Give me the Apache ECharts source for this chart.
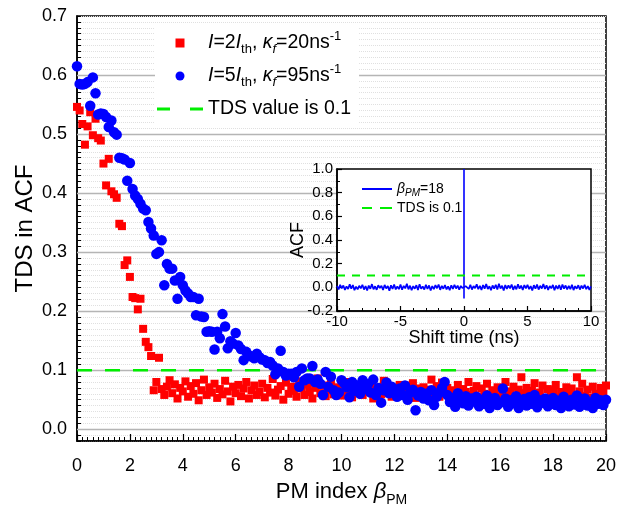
<!DOCTYPE html>
<html>
<head>
<meta charset="utf-8">
<title>TDS in ACF vs PM index</title>
<script src="https://cdn.jsdelivr.net/npm/echarts@6/dist/echarts.min.js"></script>
<style>
  html, body { margin: 0; padding: 0; background: #fff; }
  #chart { width: 625px; height: 510px; }
</style>
</head>
<body>
<div id="chart"></div>
<script>
var FONT = 'Arial, "Liberation Sans", sans-serif';
var GREEN = '#00ee00';

// TDS values, PM index 0..20 in steps of 0.1
var redTds = [
  0.546, 0.540, 0.517, 0.482, 0.513, 0.537, 0.498, 0.526, 0.493, 0.489,
  0.450, 0.413, 0.458, 0.403, 0.398, 0.392, 0.348, 0.344, 0.278, 0.286,
  0.258, 0.224, 0.222, 0.203, 0.221, 0.170, 0.148, 0.139, 0.124, 0.066,
  0.080, 0.121, 0.068, 0.058, 0.072, 0.083, 0.061, 0.076, 0.052, 0.070,
  0.064, 0.081, 0.055, 0.073, 0.060, 0.078, 0.049, 0.066, 0.084, 0.058,
  0.071, 0.062, 0.077, 0.053, 0.068, 0.059, 0.082, 0.064, 0.047, 0.072,
  0.061, 0.075, 0.056, 0.069, 0.080, 0.052, 0.066, 0.074, 0.058, 0.063,
  0.077, 0.054, 0.070, 0.062, 0.085, 0.057, 0.067, 0.073, 0.050, 0.079,
  0.060, 0.072, 0.065, 0.055, 0.081, 0.069, 0.058, 0.076, 0.063, 0.052,
  0.070, 0.086, 0.061, 0.074, 0.056, 0.067, 0.079, 0.059, 0.071, 0.064,
  0.057, 0.073, 0.066, 0.080, 0.054, 0.069, 0.062, 0.075, 0.058, 0.068,
  0.063, 0.077, 0.052, 0.070, 0.065, 0.059, 0.082, 0.061, 0.072, 0.055,
  0.068, 0.060, 0.075, 0.064, 0.057, 0.074, 0.066, 0.078, 0.053, 0.069,
  0.062, 0.071, 0.058, 0.067, 0.084, 0.060, 0.073, 0.055, 0.079, 0.064,
  0.070, 0.056, 0.066, 0.061, 0.075, 0.052, 0.068, 0.063, 0.080, 0.058,
  0.065, 0.073, 0.054, 0.069, 0.060, 0.077, 0.057, 0.066, 0.062, 0.071,
  0.055, 0.068, 0.080, 0.059, 0.064, 0.072, 0.053, 0.067, 0.088, 0.061,
  0.070, 0.057, 0.065, 0.078, 0.054, 0.062, 0.074, 0.050, 0.068, 0.060,
  0.066, 0.075, 0.052, 0.063, 0.058, 0.071, 0.061, 0.069, 0.055, 0.088,
  0.064, 0.077, 0.056, 0.067, 0.053, 0.072, 0.060, 0.058, 0.070, 0.062,
  0.074
];
var blueTds = [
  0.615, 0.585, 0.584, 0.585, 0.588, 0.548, 0.596, 0.569, 0.533, 0.535,
  0.534, 0.529, 0.512, 0.523, 0.503, 0.499, 0.460, 0.459, 0.457, 0.421,
  0.451, 0.407, 0.396, 0.390, 0.382, 0.374, 0.371, 0.351, 0.340, 0.328,
  0.297, 0.300, 0.320, 0.244, 0.280, 0.272, 0.272, 0.252, 0.221, 0.258,
  0.244, 0.235, 0.230, 0.224, 0.224, 0.193, 0.221, 0.191, 0.190, 0.165,
  0.166, 0.165, 0.135, 0.165, 0.154, 0.195, 0.174, 0.137, 0.149, 0.145,
  0.163, 0.142, 0.136, 0.117, 0.131, 0.125, 0.123, 0.120, 0.128, 0.122,
  0.118, 0.117, 0.112, 0.114, 0.108, 0.093, 0.103, 0.133, 0.097, 0.091,
  0.094, 0.094, 0.088, 0.097, 0.072, 0.103, 0.083, 0.086, 0.086, 0.107,
  0.080, 0.084, 0.077, 0.058, 0.097, 0.072, 0.089, 0.066, 0.058, 0.062,
  0.083, 0.078, 0.071, 0.054, 0.080, 0.065, 0.074, 0.060, 0.083, 0.068,
  0.076, 0.062, 0.084, 0.058, 0.070, 0.045, 0.066, 0.079, 0.061, 0.072,
  0.064, 0.055, 0.069, 0.058, 0.074, 0.050, 0.062, 0.067, 0.032, 0.057,
  0.063, 0.052, 0.060, 0.049, 0.066, 0.041, 0.055, 0.062, 0.070, 0.080,
  0.058, 0.046, 0.053, 0.038, 0.061, 0.049, 0.044, 0.056, 0.040, 0.052,
  0.047, 0.055, 0.039, 0.050, 0.043, 0.057, 0.036, 0.048, 0.053, 0.041,
  0.045, 0.069, 0.052, 0.038, 0.049, 0.044, 0.056, 0.036, 0.047, 0.051,
  0.040, 0.054, 0.043, 0.058, 0.037, 0.049, 0.045, 0.052, 0.039, 0.046,
  0.053, 0.041, 0.048, 0.036, 0.055, 0.044, 0.039, 0.050, 0.042, 0.057,
  0.038, 0.047, 0.052, 0.040, 0.045, 0.036, 0.053, 0.043, 0.049, 0.041,
  0.050
];
var tdsLevel = 0.1;
var majorY = [0, 0.1, 0.2, 0.3, 0.4, 0.5, 0.6];

// inset: ACF for beta_PM = 18, shift time -10..10 ns in steps of 0.125
var acfValues = [
  0.012, -0.018, 0.021, -0.009, 0.016, -0.022, 0.008, -0.014, 0.025, -0.011,
  0.019, -0.024, 0.006, -0.017, 0.013, -0.008, 0.022, -0.019, 0.010, -0.026,
  0.015, -0.012, 0.027, -0.016, 0.009, -0.021, 0.018, -0.007, 0.014, -0.023,
  0.020, -0.010, 0.011, -0.028, 0.017, -0.013, 0.024, -0.018, 0.007, -0.015,
  0.023, -0.020, 0.012, -0.009, 0.030, -0.017, 0.014, -0.025, 0.010, -0.012,
  0.018, -0.022, 0.026, -0.011, 0.008, -0.019, 0.021, -0.014, 0.016, -0.027,
  0.011, -0.016, 0.019, -0.008, 0.024, -0.021, 0.013, -0.012, 0.020, -0.018,
  0.009, -0.025, 0.017, -0.013, 0.022, -0.010, 0.015, -0.020, 0.012, -0.006,
  0.004,
  0.010, 0.018, -0.014, 0.022, -0.019, 0.011, -0.008, 0.025, -0.016, 0.013,
  -0.022, 0.019, -0.011, 0.028, -0.015, 0.009, -0.024, 0.016, -0.012, 0.021,
  -0.018, 0.031, -0.010, 0.014, -0.026, 0.020, -0.013, 0.017, -0.009, 0.024,
  -0.021, 0.012, -0.017, 0.026, -0.011, 0.015, -0.023, 0.019, -0.008, 0.022,
  -0.016, 0.010, -0.027, 0.018, -0.012, 0.023, -0.019, 0.013, -0.010, 0.027,
  -0.014, 0.017, -0.022, 0.011, -0.009, 0.020, -0.025, 0.015, -0.013, 0.019,
  -0.020, 0.024, -0.011, 0.016, -0.018, 0.012, -0.015, 0.021, -0.023, 0.010,
  -0.012, 0.018, -0.019, 0.014, -0.010, 0.022, -0.016, 0.011, -0.021, 0.008
];
// the zero-shift peak and its dip
var acfSpike = [-0.095, 1.0];

function pairs(vals, x0, step) {
  return vals.map(function (v, i) {
    return [+(x0 + i * step).toFixed(3), v];
  });
}

function yLabel(v) {
  var k = Math.round(v * 100);
  return (k >= 0 && k % 10 === 0) ? (k / 100).toFixed(1) : '';
}

var black = { color: '#000', width: 1.5 };

var chart = echarts.init(document.getElementById('chart'));

var option = {
  animation: false,
  backgroundColor: '#fff',
  textStyle: { fontFamily: FONT, color: '#000' },
  grid: [
    { left: 77, right: 19, top: 16, bottom: 69, show: true, backgroundColor: '#fff',
      borderColor: '#000', borderWidth: 1.5, outerBoundsMode: 'none' },
    { left: 337, right: 34, top: 169, bottom: 199, show: true, backgroundColor: '#fff',
      borderColor: '#000', borderWidth: 1.5, z: 5, outerBoundsMode: 'none' }
  ],
  legend: [
    {
      data: [
        { name: 'red', icon: 'path://M0,0L10,0L10,10L0,10Z' },
        { name: 'blue', icon: 'circle' },
        { name: 'TDS value is 0.1', icon: 'path://M0,0h13v3h-13zM33,0h13v3h-13z' }
      ],
      orient: 'vertical', left: 155, top: 24, padding: [6, 8, 6, 2],
      itemWidth: 46, itemHeight: 9, itemGap: 7, backgroundColor: '#fff',
      symbolKeepAspect: true,
      selectedMode: false,
      formatter: function (name) {
        if (name === 'red') return '{i|I}=2{i|I}{sub|th}, {i|κ}{isub|f}=20ns{sup|-1}';
        if (name === 'blue') return '{i|I}=5{i|I}{sub|th}, {i|κ}{isub|f}=95ns{sup|-1}';
        return name;
      },
      textStyle: {
        fontFamily: FONT, fontSize: 19.5, lineHeight: 26, color: '#000',
        rich: {
          i: { fontFamily: FONT, fontSize: 19.5, fontStyle: 'italic', lineHeight: 26 },
          sub: { fontFamily: FONT, fontSize: 13, lineHeight: 13, verticalAlign: 'bottom' },
          isub: { fontFamily: FONT, fontSize: 13, fontStyle: 'italic', lineHeight: 13, verticalAlign: 'bottom' },
          sup: { fontFamily: FONT, fontSize: 13, lineHeight: 15, verticalAlign: 'top' }
        }
      }
    },
    {
      data: [
        { name: 'beta18', icon: 'path://M0,0h30v2h-30z' },
        { name: 'TDS is 0.1', icon: 'path://M0,0h10v2h-10zM18,0h12v2h-12z' }
      ],
      orient: 'vertical', left: 362, top: 180, padding: 0,
      itemWidth: 30, itemHeight: 10, itemGap: 1, z: 8,
      symbolKeepAspect: true,
      selectedMode: false,
      formatter: function (name) {
        if (name === 'beta18') return '{i|β}{s|PM}=18';
        return name;
      },
      textStyle: {
        fontFamily: FONT, fontSize: 14, lineHeight: 18, color: '#000',
        rich: {
          i: { fontFamily: FONT, fontSize: 14, fontStyle: 'italic', lineHeight: 18 },
          s: { fontFamily: FONT, fontSize: 10, fontStyle: 'italic', lineHeight: 10, verticalAlign: 'bottom' }
        }
      }
    }
  ],
  xAxis: [
    {
      gridIndex: 0, type: 'value', min: 0, max: 20, interval: 2,
      name: 'PM index {b|β}{s|PM}', nameLocation: 'middle', nameGap: 36, nameMoveOverlap: false,
      nameTextStyle: {
        fontFamily: FONT, fontSize: 22, lineHeight: 30, color: '#000',
        rich: {
          b: { fontFamily: FONT, fontSize: 22, fontStyle: 'italic', lineHeight: 30 },
          s: { fontFamily: FONT, fontSize: 14, lineHeight: 14, verticalAlign: 'bottom' }
        }
      },
      axisLine: { show: true, onZero: false, lineStyle: black },
      axisTick: { show: true, inside: true, length: 7, lineStyle: { color: '#000', width: 1.2 } },
      minorTick: { show: true, splitNumber: 10, length: 4, lineStyle: { color: '#000', width: 1 } },
      axisLabel: { fontFamily: FONT, fontSize: 18, margin: 16, color: '#000' },
      splitLine: { show: false }
    },
    {
      gridIndex: 1, type: 'value', min: -10, max: 10, interval: 5, z: 6,
      name: 'Shift time (ns)', nameLocation: 'middle', nameGap: 18, nameMoveOverlap: false,
      nameTextStyle: { fontFamily: FONT, fontSize: 18, color: '#000' },
      axisLine: { show: true, onZero: false, lineStyle: black },
      axisTick: { show: true, inside: true, length: 5, lineStyle: { color: '#000', width: 1.2 } },
      minorTick: { show: true, splitNumber: 5, length: 3, lineStyle: { color: '#000', width: 1 } },
      axisLabel: { fontFamily: FONT, fontSize: 15, margin: 3, color: '#000' },
      splitLine: { show: false }
    }
  ],
  yAxis: [
    {
      gridIndex: 0, type: 'value', min: -0.02, max: 0.7, interval: 0.01,
      name: 'TDS in ACF', nameLocation: 'middle', nameGap: 40, nameMoveOverlap: false,
      nameTextStyle: { fontFamily: FONT, fontSize: 24, color: '#000' },
      axisLine: { show: true, onZero: false, lineStyle: black },
      axisTick: { show: true, inside: true, length: 4, lineStyle: { color: '#000', width: 1 } },
      axisLabel: { fontFamily: FONT, fontSize: 18, margin: 10, color: '#000', formatter: yLabel },
      splitLine: { show: true, lineStyle: { color: '#e0e0e0', type: 'dotted', width: 1 } }
    },
    {
      gridIndex: 1, type: 'value', min: -0.2, max: 1.0, interval: 0.2, z: 6,
      name: 'ACF', nameLocation: 'middle', nameGap: 30, nameMoveOverlap: false,
      nameTextStyle: { fontFamily: FONT, fontSize: 18, color: '#000' },
      axisLine: { show: true, onZero: false, lineStyle: black },
      axisTick: { show: true, inside: true, length: 5, lineStyle: { color: '#000', width: 1.2 } },
      minorTick: { show: true, splitNumber: 2, length: 3, lineStyle: { color: '#000', width: 1 } },
      axisLabel: { fontFamily: FONT, fontSize: 15, margin: 4, color: '#000',
        formatter: function (v) { return v.toFixed(1); } },
      splitLine: { show: false }
    }
  ],
  series: [
    {
      name: 'majorGrid', type: 'line', xAxisIndex: 0, yAxisIndex: 0, data: [], z: 1, silent: true,
      markLine: {
        z: 1, silent: true, symbol: ['none', 'none'], label: { show: false },
        lineStyle: { color: '#b5b5b5', width: 1.3, type: 'solid' },
        emphasis: { disabled: true },
        data: majorY.map(function (v) { return { yAxis: v }; })
      }
    },
    {
      name: 'TDS value is 0.1', type: 'line', xAxisIndex: 0, yAxisIndex: 0,
      data: [[0, tdsLevel], [20, tdsLevel]], symbol: 'none',
      lineStyle: { color: GREEN, width: 2.5, type: [15, 13] }, itemStyle: { color: GREEN }, z: 2
    },
    {
      name: 'red', type: 'scatter', xAxisIndex: 0, yAxisIndex: 0,
      symbol: 'rect', symbolSize: 8,
      itemStyle: { color: '#ff0000', opacity: 1 },
      data: pairs(redTds, 0, 0.1), z: 3
    },
    {
      name: 'blue', type: 'scatter', xAxisIndex: 0, yAxisIndex: 0,
      symbol: 'circle', symbolSize: 10.5,
      itemStyle: { color: '#0000ff', opacity: 1 },
      data: pairs(blueTds, 0, 0.1), z: 3
    },
    {
      name: 'beta18', type: 'line', xAxisIndex: 1, yAxisIndex: 1,
      data: pairs(acfValues, -10, 0.125), symbol: 'none',
      lineStyle: { color: '#0000ff', width: 1.7 }, itemStyle: { color: '#0000ff' }, z: 7
    },
    {
      name: 'beta18spike', type: 'line', xAxisIndex: 1, yAxisIndex: 1,
      data: acfSpike.map(function (v) { return [0, v]; }), symbol: 'none',
      lineStyle: { color: '#0000ff', width: 1.6 }, itemStyle: { color: '#0000ff' }, z: 7
    },
    {
      name: 'TDS is 0.1', type: 'line', xAxisIndex: 1, yAxisIndex: 1,
      data: [[-10, tdsLevel], [10, tdsLevel]], symbol: 'none',
      lineStyle: { color: GREEN, width: 2, type: [8, 7] }, itemStyle: { color: GREEN }, z: 7
    }
  ]
};

chart.setOption(option);
</script>
</body>
</html>
